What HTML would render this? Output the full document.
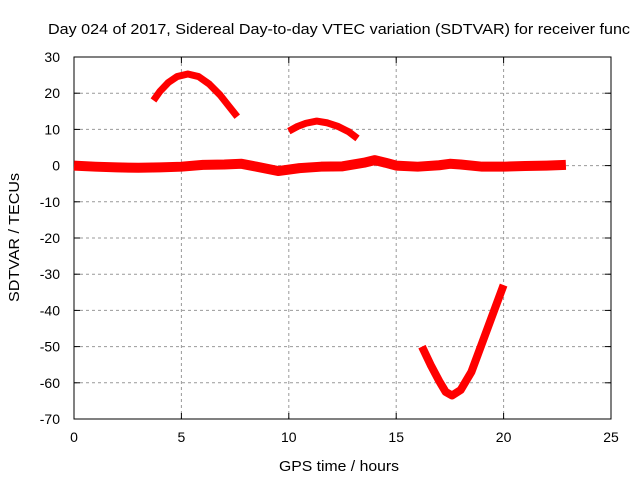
<!DOCTYPE html>
<html><head><meta charset="utf-8"><style>
body{margin:0;background:#fff;width:640px;height:480px;overflow:hidden}
svg text{font-family:"Liberation Sans",sans-serif;font-size:14px;fill:#000}
</style></head><body>
<svg width="640" height="480">
<rect width="640" height="480" fill="#fff"/>
<text x="48" y="34" style="font-size:15px" textLength="582" lengthAdjust="spacingAndGlyphs">Day 024 of 2017, Sidereal Day-to-day VTEC variation (SDTVAR) for receiver func</text>
<g id="grid"></g>
<g id="axes"></g>
<g id="series"></g>
<text x="279" y="471" style="font-size:15px" textLength="120" lengthAdjust="spacingAndGlyphs">GPS time / hours</text>
<text transform="translate(19,302) rotate(-90)" style="font-size:15px" textLength="129" lengthAdjust="spacingAndGlyphs">SDTVAR / TECUs</text>
</svg>
<script>
const xTicks=[0,5,10,15,20,25];
const yTicks=[30,20,10,0,-10,-20,-30,-40,-50,-60,-70];
const arc1H=[3.7,4.0,4.4,4.8,5.3,5.8,6.3,6.8,7.2,7.6];
const arc1V=[18,20.5,23,24.6,25.3,24.6,22.5,19.5,16.5,13.5];
const arc2H=[10,10.4,10.8,11.3,11.8,12.3,12.8,13.2];
const arc2V=[9.5,10.8,11.7,12.3,11.8,10.8,9.3,7.5];
const baseH=[0,1,2,3,4,5,6,7,7.8,8.5,9.5,10.5,11.5,12.5,13.5,14,14.5,15,16,17,17.5,18,19,20,21,22,22.9];
const baseV=[0,-0.3,-0.5,-0.6,-0.5,-0.3,0.2,0.3,0.5,-0.3,-1.5,-0.7,-0.3,-0.2,0.8,1.5,0.8,0,-0.3,0.1,0.5,0.3,-0.3,-0.3,-0.1,0,0.2];
const dipH=[16.2,16.6,17,17.3,17.6,18,18.5,19,19.5,20];
const dipV=[-50,-55,-59.5,-62.5,-63.5,-62,-57,-49,-41,-33];
const X0=74,X1=611,Y0=57,Y1=419;
const xs=h=>X0+(h-0)*(X1-X0)/25;
const ys=v=>Y0+(30-v)*(Y1-Y0)/100;
const NS="http://www.w3.org/2000/svg";
function mk(t,a,p){const e=document.createElementNS(NS,t);for(const k in a)e.setAttribute(k,a[k]);p.appendChild(e);return e;}
const grid=document.getElementById('grid'),axes=document.getElementById('axes'),ser=document.getElementById('series');
xTicks.forEach(t=>{const x=xs(t);
 if(t>0&&t<25){const l=mk('line',{x1:x,y1:Y0,x2:x,y2:Y1,stroke:'#999','stroke-dasharray':'3,3'},grid);
 
 }
 const tx=mk('text',{x:x,y:Y1+23,'text-anchor':'middle'},axes);tx.textContent=t;
 
 
 mk('line',{x1:x,y1:Y1,x2:x,y2:Y1-6,stroke:'#000'},axes);mk('line',{x1:x,y1:Y0,x2:x,y2:Y0+6,stroke:'#000'},axes);});
yTicks.forEach(t=>{const y=ys(t);
 if(t<30&&t>-70){const l=mk('line',{x1:X0,y1:y,x2:X1,y2:y,stroke:'#999','stroke-dasharray':'3,3'},grid);
 
 }
 const tx=mk('text',{x:X0-14,y:y+5,'text-anchor':'end'},axes);tx.textContent=t;
 
 
 mk('line',{x1:X0,y1:y,x2:X0+6,y2:y,stroke:'#000'},axes);mk('line',{x1:X1,y1:y,x2:X1-6,y2:y,stroke:'#000'},axes);});
const fr=mk('rect',{x:X0,y:Y0,width:X1-X0,height:Y1-Y0,fill:'none',stroke:'#000'},axes);


[[arc1H,arc1V,'series-arc-1',7],[arc2H,arc2V,'series-arc-2',7],[baseH,baseV,'series-baseline',10],[dipH,dipV,'series-dip',8]].forEach(([H,V,n,w])=>{
 const p=mk('polyline',{points:H.map((h,i)=>xs(h)+','+ys(V[i])).join(' '),fill:'none',stroke:'#f00','stroke-width':w,'stroke-linejoin':'round'},ser);
 
 
});
</script>
</body></html>
